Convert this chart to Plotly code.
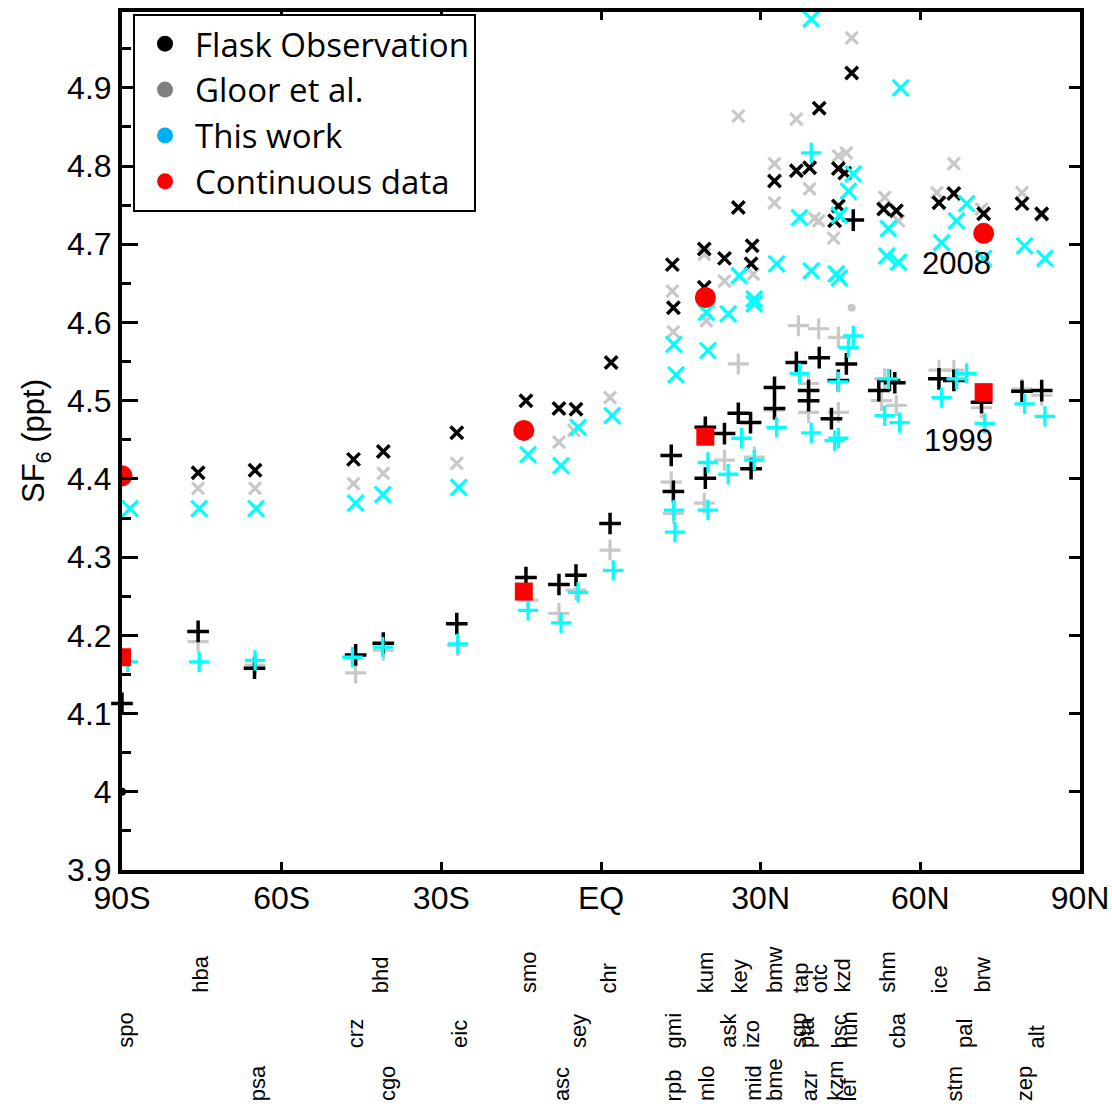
import plotly.graph_objects as go

# ---------------- axis ticks ----------------
lat_ticks = [-90, -60, -30, 0, 30, 60, 90]
lat_tick_text = ["90S", "60S", "30S", "EQ", "30N", "60N", "90N"]

# ---------------- 2008 (x markers) ----------------
flask08_lat = [-90.4, -75.7, -65.0, -46.5, -40.9, -27.1, -14.1, -7.9, -4.7, 1.9, 13.4, 13.6, 19.4, 19.4,
               23.2, 25.8, 28.4, 28.2, 32.6, 36.7, 39.2, 41.0, 44.6, 45.8, 44.6, 43.9, 47.1, 53.1, 55.5,
               63.5, 66.3, 71.9, 79.1, 82.8]
flask08_val = [4.427, 4.408, 4.411, 4.425, 4.435, 4.459, 4.500, 4.490, 4.489, 4.549, 4.674, 4.619, 4.694, 4.645,
               4.682, 4.747, 4.698, 4.675, 4.781, 4.794, 4.798, 4.874, 4.797, 4.791, 4.749, 4.730, 4.919, 4.745, 4.743,
               4.753, 4.765, 4.739, 4.752, 4.739]

gloor08_lat = [-90.8, -75.7, -65.0, -46.5, -40.9, -27.1, -7.9, -5.1, 1.7, 13.4, 13.6, 19.4, 19.8, 23.2, 25.8,
               28.6, 32.6, 32.6, 36.7, 39.2, 40.1, 40.9, 44.6, 46.1, 43.7, 47.1, 53.3, 55.9, 63.1, 66.3, 71.5,
               79.1, 82.8]
gloor08_val = [4.389, 4.388, 4.388, 4.394, 4.407, 4.420, 4.447, 4.462, 4.504, 4.640, 4.588, 4.687, 4.602, 4.653, 4.864,
               4.662, 4.803, 4.753, 4.860, 4.771, 4.733, 4.730, 4.813, 4.817, 4.708, 4.964, 4.760, 4.730, 4.766, 4.803, 4.745,
               4.766, 4.737]

thiswork08_lat = [-88.5, -75.5, -64.8, -46.1, -41.0, -26.7, -13.7, -7.5, -4.3, 2.1, 13.7, 14.1, 19.8, 20.1,
                  23.9, 26.0, 28.8, 28.8, 33.0, 37.3, 39.5, 39.5, 47.4, 46.5, 44.8, 44.2, 44.8, 56.3, 54.0,
                  53.7, 55.9, 68.7, 66.8, 64.0, 71.9, 79.6, 83.4]
thiswork08_val = [4.362, 4.362, 4.362, 4.369, 4.380, 4.389, 4.431, 4.417, 4.466, 4.481, 4.572, 4.533, 4.613, 4.564,
                  4.611, 4.660, 4.630, 4.624, 4.675, 4.734, 4.988, 4.666, 4.790, 4.768, 4.737, 4.662, 4.657, 4.900, 4.720,
                  4.685, 4.677, 4.752, 4.730, 4.702, 4.682, 4.698, 4.682]

continuous08_lat = [-90.0, -14.5, 19.6, 71.9]
continuous08_val = [4.404, 4.462, 4.632, 4.714]

# ---------------- 1999 (+ markers) ----------------
flask99_lat = [-90.0, -75.7, -65.1, -46.1, -40.9, -27.1, -14.1, -7.9, -4.7, 1.7, 13.2, 13.6, 19.6, 19.6,
               23.2, 25.8, 28.1, 28.2, 32.6, 32.6, 36.7, 41.0, 39.0, 39.0, 46.1, 44.6, 43.3, 47.4, 54.2,
               55.2, 52.2, 63.5, 66.3, 71.5, 79.1, 82.8]
flask99_val = [4.113, 4.205, 4.158, 4.175, 4.190, 4.215, 4.274, 4.265, 4.277, 4.343, 4.430, 4.384, 4.466, 4.401,
               4.458, 4.484, 4.472, 4.413, 4.517, 4.490, 4.549, 4.555, 4.513, 4.500, 4.547, 4.526, 4.477, 4.731, 4.526,
               4.523, 4.513, 4.528, 4.526, 4.498, 4.512, 4.513]

gloor99_lat = [-91.3, -75.7, -65.0, -46.1, -40.9, -26.9, -13.7, -7.9, -4.7, 1.7, 13.2, 13.6, 19.4, 23.2, 25.8,
               28.8, 32.6, 37.1, 40.9, 39.0, 39.0, 44.6, 44.6, 53.3, 52.7, 55.5, 63.5, 66.3, 71.5, 79.1, 82.8]
gloor99_val = [4.098, 4.192, 4.162, 4.152, 4.181, 4.187, 4.245, 4.228, 4.258, 4.309, 4.396, 4.356, 4.369, 4.424, 4.547,
               4.428, 4.488, 4.596, 4.592, 4.522, 4.485, 4.581, 4.485, 4.528, 4.500, 4.494, 4.539, 4.539, 4.491, 4.515, 4.507]

thiswork99_lat = [-88.9, -75.5, -65.0, -46.7, -41.0, -26.9, -13.7, -7.5, -4.3, 2.3, 13.7, 13.9, 20.1, 20.1,
                  23.9, 26.4, 28.8, 33.0, 37.3, 39.5, 39.5, 47.4, 46.5, 44.6, 44.6, 43.9, 54.0, 53.3, 56.1,
                  64.0, 66.8, 68.7, 72.1, 79.6, 83.4]
thiswork99_val = [4.166, 4.166, 4.168, 4.172, 4.185, 4.189, 4.232, 4.216, 4.255, 4.283, 4.360, 4.332, 4.421, 4.360,
                  4.406, 4.452, 4.424, 4.466, 4.535, 4.817, 4.459, 4.583, 4.568, 4.524, 4.452, 4.449, 4.528, 4.481, 4.472,
                  4.504, 4.528, 4.535, 4.471, 4.496, 4.480]

continuous99_lat = [-90.0, -14.5, 19.6, 71.9]
continuous99_val = [4.172, 4.256, 4.454, 4.511]

# stray single-value dots
flask_dot_lat = [-90.0]
flask_dot_val = [4.000]
gloor_dot_lat = [-90.2, 47.1]
gloor_dot_val = [3.974, 4.619]

# ---------------- station labels (three rows) ----------------
row1_names = ["hba", "bhd", "smo", "chr", "kum", "key", "bmw", "tap", "otc", "kzd", "shm", "ice", "brw"]
row1_lat = [-75.3, -41.4, -13.7, 1.5, 19.6, 26.0, 32.6, 37.5, 41.1, 45.2, 53.7, 63.6, 71.5]
row2_names = ["spo", "crz", "eic", "sey", "gmi", "ask", "izo", "sgp", "pta", "bsc", "hun", "cba", "pal", "alt"]
row2_lat = [-89.4, -46.1, -26.7, -4.3, 13.7, 23.9, 28.2, 37.1, 38.6, 44.8, 46.7, 55.7, 68.3, 81.9]
row3_names = ["psa", "cgo", "asc", "rpb", "mlo", "mid", "bme", "azr", "kzm", "lef", "stm", "zep"]
row3_lat = [-64.6, -40.1, -7.5, 13.6, 19.8, 28.6, 32.6, 39.2, 43.9, 46.5, 66.5, 79.6]

year_labels = ["2008", "1999"]
year_label_lat = [66.8, 67.2]
year_label_val = [4.676, 4.449]

GRAY = "#c8c8c8"
CYAN = "#00ffff"

fig = go.Figure()


def add_marks(lat, val, symbol, size, color, width=3.0, clip=False):
    fig.add_trace(go.Scatter(
        x=lat, y=val, mode="markers", showlegend=False, cliponaxis=clip,
        marker=dict(symbol=symbol, size=size, color=color, line=dict(width=width, color=color)),
        hoverinfo="x+y"))


add_marks(gloor08_lat, gloor08_val, "x-thin", 12, GRAY, 3.2)
add_marks(gloor99_lat, gloor99_val, "cross-thin", 15, GRAY, 3.2)
add_marks(gloor_dot_lat, gloor_dot_val, "circle", 8, GRAY, 0)
add_marks(flask08_lat, flask08_val, "x-thin", 12.5, "black", 3.5)
add_marks(flask99_lat, flask99_val, "cross-thin", 15.5, "black", 3.5)
add_marks(flask_dot_lat, flask_dot_val, "circle", 8, "black", 0)
add_marks(thiswork08_lat, thiswork08_val, "x-thin", 16, CYAN, 3.3)
add_marks(thiswork99_lat, thiswork99_val, "cross-thin", 14.5, CYAN, 3.3)

fig.add_trace(go.Scatter(x=continuous08_lat, y=continuous08_val, mode="markers", showlegend=False,
                         cliponaxis=True, marker=dict(symbol="circle", size=21, color="#ff0000")))
fig.add_trace(go.Scatter(x=continuous99_lat, y=continuous99_val, mode="markers", showlegend=False,
                         cliponaxis=True, marker=dict(symbol="square", size=18, color="#ff0000")))

# legend entries
legend_names = ["Flask Observation", "Gloor et al.", "This work", "Continuous data"]
legend_colors = ["#000000", "#7f7f7f", "#00b0f0", "#ff0000"]
for i, (nm, col) in enumerate(zip(legend_names, legend_colors)):
    fig.add_trace(go.Scatter(x=[None], y=[None], mode="markers", name=nm, legendgroup=f"g{i}",
                             marker=dict(symbol="circle", size=16, color=col)))

# right-hand y axis (major ticks only)
fig.add_trace(go.Scatter(x=[None], y=[None], yaxis="y2", showlegend=False, hoverinfo="skip"))

annotations = []
for names, lats, ybot in [(row1_names, row1_lat, -0.1457), (row2_names, row2_lat, -0.2098),
                          (row3_names, row3_lat, -0.2716)]:
    for nm, la in zip(names, lats):
        annotations.append(dict(x=la, y=ybot, xref="x", yref="paper", text=nm, showarrow=False,
                                textangle=-90, xanchor="center", yanchor="bottom",
                                font=dict(family="Liberation Sans, Arial", size=22, color="black")))
for t, la, v in zip(year_labels, year_label_lat, year_label_val):
    annotations.append(dict(x=la, y=v, xref="x", yref="y", text=t, showarrow=False,
                            xanchor="center", yanchor="middle",
                            font=dict(family="Liberation Sans, Arial", size=31, color="black")))

YR = [3.9, 4.997]
fig.update_layout(
    width=1112, height=1111,
    margin=dict(l=122, r=32, t=12, b=241, autoexpand=False),
    paper_bgcolor="white", plot_bgcolor="white",
    font=dict(family="Liberation Sans, Arial", color="black"),
    showlegend=True,
    legend=dict(x=0.0115, y=0.998, xanchor="left", yanchor="top", bgcolor="white",
                bordercolor="black", borderwidth=2, itemwidth=50, tracegroupgap=0,
                font=dict(family="Open Sans, Liberation Sans", size=33, color="black")),
    xaxis=dict(range=[-90, 90], tickvals=lat_ticks, ticktext=lat_tick_text, ticks="inside",
               ticklen=8, tickwidth=3, tickcolor="black", showline=True, linewidth=4, linecolor="black",
               mirror="ticks", showgrid=False, zeroline=False, tickfont=dict(size=32), automargin=False,
               ticklabelstandoff=-3),
    yaxis=dict(range=YR, tick0=3.9, dtick=0.1, ticks="inside", ticklen=16, tickwidth=3, tickcolor="black",
               minor=dict(dtick=0.05, tick0=3.9, ticks="inside", ticklen=9, tickwidth=3, tickcolor="black",
                          showgrid=False),
               showline=True, linewidth=4, linecolor="black", mirror=True, showgrid=False, zeroline=False,
               tickfont=dict(size=32), automargin=False,
               title=dict(text="SF<sub>6</sub> (ppt)", font=dict(size=31), standoff=14)),
    yaxis2=dict(range=YR, overlaying="y", side="right", anchor="x", tick0=3.9, dtick=0.1,
                ticks="inside", ticklen=11, tickwidth=3, tickcolor="black", showticklabels=False,
                showline=False, showgrid=False, zeroline=False, automargin=False),
    annotations=annotations,
)

fig.write_html("out.html", config={"displayModeBar": False},
               post_script="document.body.style.margin='0px';")
